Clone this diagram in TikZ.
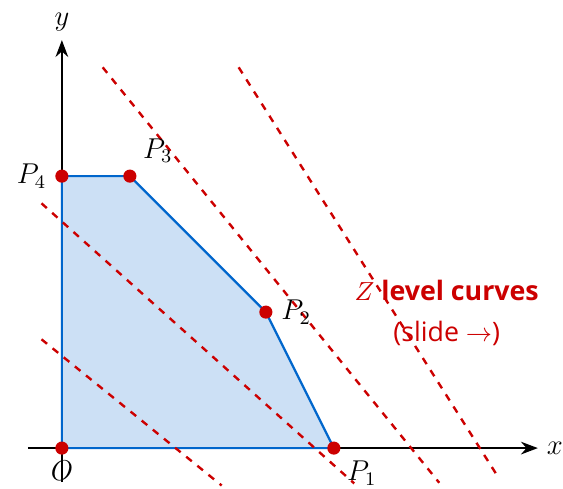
\documentclass[tikz,border=0pt]{standalone}
\usepackage{amsmath}
\usepackage{fontspec}
\setsansfont{Open Sans}
\usetikzlibrary{arrows.meta}
\definecolor{polyblue}{RGB}{0, 102, 204}
\definecolor{levelred}{RGB}{204, 0, 0}

\begin{document}
\begin{tikzpicture}[x=1cm, y=1cm, every node/.style={font=\large},
    dot/.style={circle, fill=levelred, inner sep=0pt, minimum size=5.5pt},
    level/.style={levelred, line width=1pt, dashed}]
    \useasboundingbox (-0.91,-0.59) rectangle (7.37,6.59);

    % Axes
    \draw[line width=0.9pt, -{Stealth}] (-0.5,0) -- (7,0) node[right] (xlab) {$x$};
    \draw[line width=0.9pt, -{Stealth}] (0,-0.5) -- (0,6) node[above] (ylab) {$y$};

    % Feasible region
    \coordinate (O) at (0,0);
    \coordinate (P1) at (4,0);
    \coordinate (P2) at (3,2);
    \coordinate (P3) at (1,4);
    \coordinate (P4) at (0,4);
    \filldraw[fill=polyblue!20, draw=polyblue, line width=0.9pt, line join=round]
        (O) -- (P1) -- (P2) -- (P3) -- (P4) -- cycle;

    % Level curves of Z
    \foreach \a/\b in {{-0.3,1.6}/{2.35,-0.55}, {-0.3,3.6}/{4.3,-0.52},
                       {0.6,5.6}/{5.55,-0.51}, {2.6,5.6}/{6.4,-0.4}}
        \draw[level] (\a) -- (\b);

    % Corner points
    \foreach \p/\pos/\d/\lab in {O/below/2pt/O, P1/below right/2pt/P_1, P2/right/3pt/P_2,
                                 P3/above right/2pt/P_3, P4/left/3pt/P_4}
        {\node[dot] (d\p) at (\p) {}; \node[\pos=\d] (l\p) at (\p) {$\lab$};}

    \node[levelred, align=center, font=\sffamily\fontsize{11.2}{15}\selectfont] (zlab) at (5.66,1.99)
        {$Z$ \textbf{level curves}\\[2pt] (slide $\to$)};
\end{tikzpicture}
\end{document}
